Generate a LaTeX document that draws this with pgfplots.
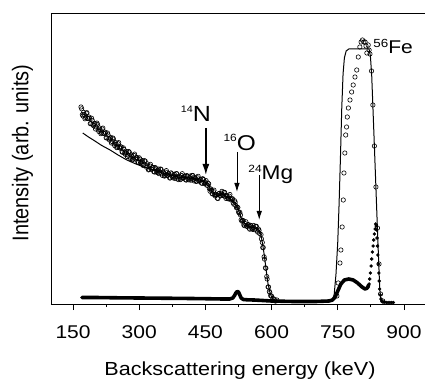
\documentclass[border=0pt]{standalone}
\usepackage{fontspec}
\setmainfont{Liberation Sans}
\usepackage{graphicx}
\usepackage{pgfplots}
\pgfplotsset{compat=1.18}
\usetikzlibrary{arrows.meta}
\newcommand{\sx}[1]{\scalebox{1.14}[1]{#1}}
\newcommand{\iso}[5]{\scalebox{1.14}[1]{\fontsize{#4}{#4}\selectfont\raisebox{#5}{#1}\fontsize{#3}{#3}\selectfont #2}}
\begin{document}
\begin{tikzpicture}
\begin{axis}[
  scale only axis, width=375bp, height=291bp,
  xmin=100, xmax=950, ymin=0, ymax=291,
  axis x line*=bottom, axis y line*=left,
  axis line style={line width=0.9bp},
  ytick=\empty,
  xtick={150,300,450,600,750,900},
  xticklabels={\sx{150},\sx{300},\sx{450},\sx{600},\sx{750},\sx{900}},
  minor x tick num=1,
  tick align=outside,
  major tick length=6bp, minor tick length=3bp,
  tick style={line width=0.8bp, black},
  xticklabel style={font=\fontsize{18.5}{18.5}\selectfont, anchor=base, yshift=-28bp},
  xlabel={\sx{Backscattering energy (keV)}},
  xlabel style={font=\fontsize{19}{19}\selectfont, at={(axis description cs:0.504,-0.244)}, anchor=base},
  ylabel={\scalebox{1}[1.14]{Intensity (arb. units)}},
  ylabel style={font=\fontsize{20}{20}\selectfont, at={(axis description cs:-0.076,0.519)}, anchor=center},
]
% filled-dot spectrum (dense, drawn as thick band)
\addplot[black, line width=3.6bp, line cap=round, line join=round] coordinates {
(170,6.5)(200,6.5)(250,6.2)(300,6)(350,5.8)(400,5.6)(450,5.3)(490,5)(505,5)(512,6)(516,8.5)(519,11)(522,12.5)(525,12)(528,9)(531,6)(536,4.5)(545,4.2)(560,4)(580,3.5)(600,3)(650,2.5)(700,2.5)(730,3)(738,4)(744,7)(750,13)(757,20)(765,24)(775,25)(785,24)(795,21)(805,17)(812,15)(817,16)(820,19)
};
\addplot[black, only marks, mark=*, mark size=1.5bp] coordinates {
(819,17)(821,20)(822.5,25)(824,31)(825.5,38)(827,45)(828.5,52)(830,58)(831.5,64)(833,70)(834.5,75)(836,80)(837,78)(838,74)(839,66)(840,58)(841,49)(842,40)(843,31)(844,23)(845,15)(846.5,9)(848,5)(850,3)(853,2)(856,2)(860,1.5)(864,1.5)(868,1.5)(872,1.5)(876,1.5)
};
% simulation (solid line)
\addplot[black, line width=1bp] coordinates {
(172,171)(185,167)(196,164)(215,158.5)(234,154)(252,149)(272,144)(290,140.5)(310,137)(330,134)(350,131.5)(370,129)(390,127)(410,126)(425,125.5)(440,123.5)(450,121.5)(458,117)(466,112)(476,108)(486,110)(494,108.5)(506,105.5)(517,101)(525,94)(531,86)(540,80)(551,77)(562,76)(571,74)(576,69)(580,59)(584,47)(588,33)(592,20)(596,12)(600,7)(606,4)(615,3)(650,2.5)(700,2.5)(738,3)(742,10)(746,30)(750,62)(753,100)(756,145)(759,195)(762,230)(765,246)(769,253)(775,255)(821,255)(824,248)(827,228)(830,193)(833,158)(836,122)(839,86)(842,51)(845,17)(847,6)(850,3)(856,2)
};
% open-circle spectrum
\addplot[black, only marks, mark=o, mark size=2.2bp, mark options={line width=0.6bp}] coordinates {
(168,197)(171,189.3)(174,191.7)(177,185.2)(180,190.8)(183,185.7)(186,187)(189,180.3)(192,185.8)(195,179.4)(198,180.2)(201,175)
(204,180.9)(207,174.1)(210,176)(213,170.3)(216,175.1)(219,170.7)(222,172)(225,166.2)(228,171)(231,165.2)(234,165.8)(237,161)
(240,166)(243,160)(246,161.5)(249,156.4)(252,160.3)(255,156.4)(258,157.3)(261,152.2)(264,156.1)(267,151)(270,151.3)(273,147.5)
(276,152.5)(279,147)(282,148.9)(285,144.3)(288,148.6)(291,145.2)(294,146.5)(297,141.9)(300,146.2)(303,141.5)(306,142.3)(309,138.5)
(312,143.3)(315,138.4)(318,140.2)(321,134.1)(324,138.1)(327,135.1)(330,136.4)(333,132.4)(336,136.5)(339,132.6)(342,133.5)(345,130.3)
(348,135)(351,130.2)(354,132)(357,127.9)(360,131.9)(363,128.9)(366,130.2)(369,126)(372,131.1)(375,127.2)(378,128.1)(381,125.5)
(384,130.4)(387,126)(390,127.8)(393,124.4)(396,128.5)(399,126)(402,127.7)(405,124.3)(408,128.4)(411,125)(414,126.3)(417,123.8)
(420,128.5)(423,124.5)(426,126.6)(429,122.6)(432,126.2)(435,123.2)(438,124.3)(441,121)(444,125.3)(447,121.5)(450,122)(453,118.8)
(456,120.8)(459,115.4)(462,115.1)(465,110.5)(468,112.4)(471,109.1)(474,109)(477,105.8)(480,110.3)(483,108.7)(486,110.8)(489,108.6)
(492,111.6)(495,107.6)(498,108.6)(501,105.3)(504,107.9)(507,105.1)(510,105.2)(513,101.2)(516,103.3)(519,98.5)(522,96.8)(525,92.2)
(528,91.7)(531,84.2)(534,83.6)(537,79.1)(540,80.4)(543,78.1)(546,78.9)(549,75.8)(552,78.7)(555,75.8)(558,76.6)(561,74.3)
(564,77.6)(567,73.8)(570,75)(573,70.5)(576,69.4)(577,65.1)(579,61.5)(580,56.4)(581,56.5)(583,47.2)(584,44.9)(586,36.2)
(587,35.7)(589,27.4)(590,25)(592,17)(593,17)(595,12.5)(596,11.5)(598,8.2)(600,7.9)(603,5.4)(606,4.8)(609,2.9)(612,4)
(169.5,195.2)(172.5,188)(175.5,189.5)(178.5,186.5)(181.5,191.3)(184.5,185.4)(187.5,185.7)(190.5,180.5)(193.5,183.6)(196.5,178.3)
(199.5,180.6)(202.5,177)(205.5,179.5)(208.5,172.5)(211.5,174.2)(214.5,171.2)(217.5,175.9)(220.5,170.4)(223.5,171.1)(226.5,166.1)
(229.5,169.1)(232.5,164)(235.5,166.4)(238.5,162.5)(241.5,165)(244.5,158.3)(247.5,160)(250.5,156.9)(253.5,161.4)(256.5,155.9)
(259.5,156.8)(262.5,151.7)(265.5,154.6)(268.5,149.7)(271.5,152.4)(274.5,149)(277.5,151.8)(280.5,145.5)(283.5,147.6)(286.5,145)
(289.5,149.9)(292.5,144.9)(295.5,146.2)(298.5,141.5)(301.5,144.9)(304.5,140.4)(307.5,143.4)(310.5,139.9)(313.5,142.9)(316.5,136.8)
(319.5,138.2)(322.5,134.6)(325.5,139.6)(328.5,134.8)(331.5,136.4)(334.5,132)(337.5,135.6)(340.5,131.5)(343.5,134.9)(346.5,131.7)
(349.5,134.6)(352.5,128.6)(355.5,131)(358.5,128.4)(361.5,133.4)(364.5,128.6)(367.5,130.1)(370.5,126.1)(373.5,130.2)(376.5,126.2)
(379.5,129.8)(382.5,127)(385.5,130.2)(388.5,124.4)(391.5,127.1)(394.5,125)(397.5,130.3)(400.5,125.9)(403.5,128)(406.5,123.9)
(409.5,127.7)(412.5,124.2)(415.5,128)(418.5,125.2)(421.5,128.5)(424.5,123.1)(427.5,125.6)(430.5,122.9)(433.5,127.7)(436.5,122.8)
(439.5,124.7)(442.5,120.7)(445.5,124.4)(448.5,120.3)(451.5,123.4)(454.5,118.8)(457.5,120.1)(460.5,112.8)(463.5,113.8)(466.5,110)
(469.5,113.8)(472.5,108)(475.5,109.4)(478.5,105.5)(481.5,110.5)(484.5,108.2)(487.5,112.7)(490.5,109.1)(493.5,111.6)(496.5,105.6)
(499.5,107.9)(502.5,105.1)(505.5,109.5)(508.5,104.1)(511.5,105.2)(514.5,99.8)(517.5,101.9)(520.5,96.2)(523.5,96.5)(526.5,91)
(529.5,89)(532.5,82.9)(535.5,83.4)(538.5,78.3)(541.5,82.3)(544.5,77.5)(547.5,79.4)(550.5,74.8)(553.5,78.3)(556.5,74.7)
(559.5,78.5)(562.5,75)(565.5,77.7)(568.5,71.9)(571.5,73.8)
(748,8)(751,21)(755,41)(757,54)(760,77)(762.5,104)(764,131)(766,151)(768,169)(770,177)(771.6,187)(774,196)(777.7,204)(781.5,212)
(785,219)(789,227)(793,234)(796.5,247)(800,257)(803,262)(806,264)(809,262)(812,262)(814,258)(816,251)(819,259)(821,254)(823,250)
(826.5,233)(829.5,199)(833,158)(836.5,117)(840,76)(843.5,40)(847,10)(852,3)
};
% annotations
\draw[line width=1.5bp, -{Latex[length=11bp,width=7bp]}] (axis cs:451,176) -- (axis cs:451,129);
\draw[line width=0.9bp, -{Latex[length=9bp,width=5.5bp]}] (axis cs:521.5,152) -- (axis cs:521.5,112);
\draw[line width=0.9bp, -{Latex[length=9bp,width=5.5bp]}] (axis cs:572,129) -- (axis cs:572,84);
\node[anchor=base west, inner sep=0pt] at (axis cs:394,182) {\iso{14}{N}{22}{9.5}{9bp}};
\node[anchor=base west, inner sep=0pt] at (axis cs:490.6,153) {\iso{16}{O}{21.5}{10.5}{9bp}};
\node[anchor=base west, inner sep=0pt] at (axis cs:547,124) {\iso{24}{Mg}{20}{10.5}{7bp}};
\node[anchor=base west, inner sep=0pt] at (axis cs:830.5,250.7) {\iso{56}{Fe}{18.5}{11.8}{5.3bp}};
\draw[line width=0.9bp] (rel axis cs:0,1) -- (rel axis cs:1,1);
\end{axis}
\pgfresetboundingbox
\path[use as bounding box] (-51bp,-75bp) rectangle (374bp,304bp);
\end{tikzpicture}
\end{document}
